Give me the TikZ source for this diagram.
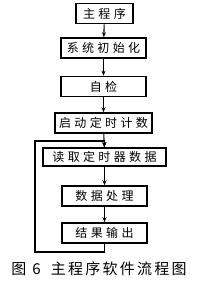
\documentclass[tikz,border=0pt]{standalone}
\usepackage{fontspec}
\setmainfont{Noto Sans CJK SC}[LetterSpace=28]
\newfontfamily\capfont{Noto Sans CJK SC}[LetterSpace=15]
\usetikzlibrary{arrows.meta}
\begin{document}
\begin{tikzpicture}[x=1pt,y=-1pt,>={Stealth[length=5pt,width=4pt]},line width=1.1pt,
  box/.style={draw, rectangle, line width=1.6pt, inner sep=0pt, minimum height=20pt, font=\fontsize{12}{14}\selectfont}]
\useasboundingbox (0,0) rectangle (200,282);
\node[box, minimum width=57pt] (main) at (104.5,13.5) {主程序};
\node[box, minimum width=85pt] (init) at (103.5,48) {系统初始化};
\node[box, minimum width=85pt] (check) at (103.5,86.5) {自检};
\node[box, minimum width=97pt] (timer) at (103.5,123) {启动定时计数};
\node[box, minimum width=123pt, minimum height=18pt] (read) at (104.5,157) {读取定时器数据};
\node[box, minimum width=85pt] (proc) at (104.5,196) {数据处理};
\node[box, minimum width=85pt] (out) at (104.5,233) {结果输出};
\node[font=\capfont\fontsize{15}{17}\selectfont] (cap) at (99,269) {图\hspace{6pt}6\hspace{10pt}主程序软件流程图};
\coordinate (lb) at (35,252);
\coordinate (lt) at (35,141);
\draw[->] (main) -- (init);
\draw[->] (init) -- (check);
\draw[->] (check) -- (timer);
\draw[->] (timer) -- (read);
\draw[->] (read) -- (proc);
\draw[->] (proc) -- (out);
\draw[->] (out) |- (lb) -- (lt) -| (read);
\end{tikzpicture}
\end{document}
